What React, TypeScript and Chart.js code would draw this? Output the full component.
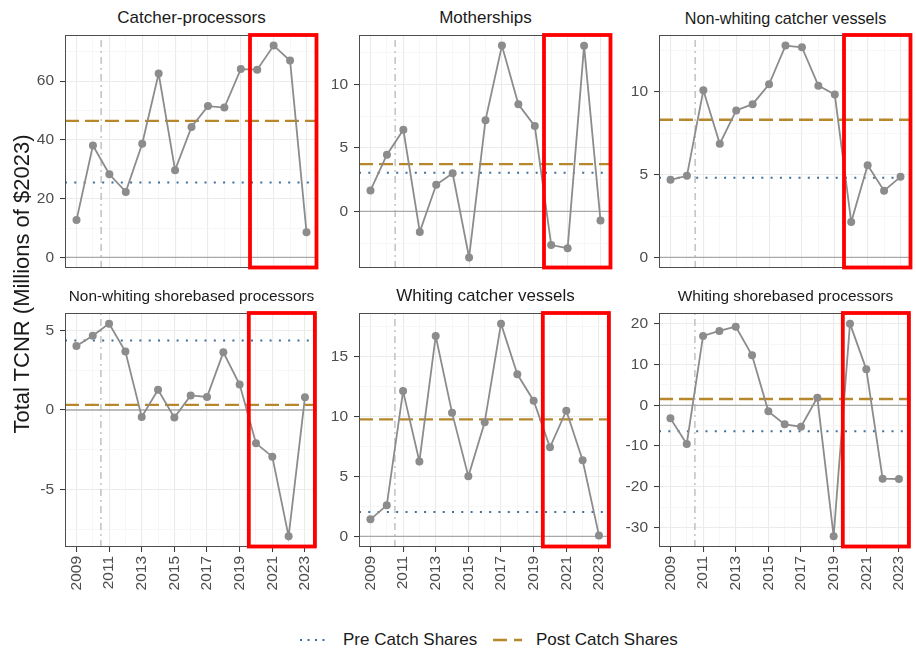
import React, { useEffect, useRef } from "react";
import { Chart, registerables } from "chart.js";

Chart.register(...registerables);

// ---------------- data ----------------
const years = [2009, 2010, 2011, 2012, 2013, 2014, 2015, 2016, 2017, 2018, 2019, 2020, 2021, 2022, 2023];
const xTickLabels = ["2009", "2011", "2013", "2015", "2017", "2019", "2021", "2023"];

const panelTitles = [
  "Catcher-processors",
  "Motherships",
  "Non-whiting catcher vessels",
  "Non-whiting shorebased processors",
  "Whiting catcher vessels",
  "Whiting shorebased processors",
];

const catcherProcessors = [12.7, 38.1, 28.3, 22.3, 38.7, 62.6, 29.7, 44.4, 51.5, 51.0, 64.1, 63.9, 72.1, 67.0, 8.6];
const motherships = [1.64, 4.46, 6.42, -1.62, 2.09, 3.0, -3.63, 7.18, 13.05, 8.43, 6.71, -2.66, -2.9, 13.03, -0.73];
const nonWhitingCatcherVessels = [4.69, 4.93, 10.1, 6.87, 8.88, 9.26, 10.46, 12.8, 12.7, 10.38, 9.84, 2.14, 5.57, 4.03, 4.87];
const nonWhitingShorebased = [4.03, 4.68, 5.44, 3.68, -0.44, 1.28, -0.48, 0.92, 0.82, 3.63, 1.6, -2.1, -2.94, -7.96, 0.8];
const whitingCatcherVessels = [1.42, 2.59, 12.13, 6.26, 16.73, 10.33, 5.01, 9.52, 17.76, 13.53, 11.33, 7.43, 10.49, 6.35, 0.08];
const whitingShorebased = [-3.2, -9.5, 17.05, 18.3, 19.34, 12.3, -1.48, -4.67, -5.25, 1.89, -32.2, 20.08, 8.85, -18.03, -18.1];

const seriesList = [
  catcherProcessors,
  motherships,
  nonWhitingCatcherVessels,
  nonWhitingShorebased,
  whitingCatcherVessels,
  whitingShorebased,
];

const preMeans = [25.5, 3.03, 4.81, 4.37, 2.03, -6.39];
const postMeans = [46.5, 3.71, 8.32, 0.32, 9.77, 1.56];

const majorTicks = [
  [0, 20, 40, 60],
  [0, 5, 10],
  [0, 5, 10],
  [-5, 0, 5],
  [0, 5, 10, 15],
  [-30, -20, -10, 0, 10, 20],
];
const minorTicks = [
  [10, 30, 50, 70],
  [-2.5, 2.5, 7.5, 12.5],
  [2.5, 7.5, 12.5],
  [-7.5, -2.5, 2.5],
  [2.5, 7.5, 12.5, 17.5],
  [-25, -15, -5, 5, 15],
];

const catchShareStart = 2010.5;
const highlightStart = 2019.5;

// ---------------- style ----------------
const FONT = '"Liberation Sans", Arial, sans-serif';
const GREY = "#8c8c8c";
const PRE_COLOR = "#3f6f9c";
const POST_COLOR = "#b8862b";
const titleSizes = [17, 17, 16.2, 15.4, 17, 15.4];

const colLeft = [65, 359, 659];
const rowTop = [35, 313];
const PLOT_W = 253;
const rowH = [233, 234];
const YW = 50;
const PAD_T = 20;
const PAD_R = 10;
const PAD_B_TOP = 20;
const XH = 55;

const framePlugin = {
  id: "frame",
  afterDatasetsDraw(chart: any) {
    const { ctx, chartArea } = chart;
    const xs = chart.scales.x;
    ctx.save();
    ctx.strokeStyle = "#4d4d4d";
    ctx.lineWidth = 1;
    ctx.strokeRect(
      chartArea.left + 0.5,
      chartArea.top + 0.5,
      chartArea.right - chartArea.left - 1,
      chartArea.bottom - chartArea.top - 1
    );
    const x1 = xs.getPixelForValue(highlightStart) + 1;
    const x2 = chartArea.right - 1.5;
    ctx.strokeStyle = "#ff0000";
    ctx.lineWidth = 3.8;
    ctx.lineJoin = "miter";
    ctx.strokeRect(x1, chartArea.top, x2 - x1, chartArea.bottom - chartArea.top - 0.5);
    ctx.restore();
  },
};

function Panel({ idx }: { idx: number }) {
  const ref = useRef<HTMLCanvasElement>(null);
  const col = idx % 3;
  const row = Math.floor(idx / 3);
  const bottom = row === 1;
  const width = YW + PLOT_W + PAD_R;
  const height = PAD_T + rowH[row] + (bottom ? XH : PAD_B_TOP);

  useEffect(() => {
    const values = seriesList[idx];
    const all = [...values, 0, preMeans[idx], postMeans[idx]];
    const lo = Math.min(...all);
    const hi = Math.max(...all);
    const ex = (hi - lo) * 0.05;
    const ymin = lo - ex;
    const ymax = hi + ex;
    const xmin = years[0] - 0.7;
    const xmax = years[years.length - 1] + 0.7;
    const majors = majorTicks[idx];
    const yTicks = [...majors, ...minorTicks[idx]].filter((v) => v >= ymin && v <= ymax).sort((a, b) => a - b);
    const isMajorX = (v: number) => xTickLabels.includes(String(v));
    const isMajorY = (v: number) => majors.includes(v);

    const chart = new Chart(ref.current as HTMLCanvasElement, {
      type: "line",
      data: {
        datasets: [
          {
            data: years.map((x, i) => ({ x, y: values[i] })),
            borderColor: GREY,
            backgroundColor: GREY,
            pointBackgroundColor: GREY,
            pointBorderColor: GREY,
            pointRadius: 4,
            pointBorderWidth: 0,
            borderWidth: 1.8,
            tension: 0,
          },
          {
            data: [
              { x: xmin, y: preMeans[idx] },
              { x: xmax, y: preMeans[idx] },
            ],
            borderColor: PRE_COLOR,
            borderDash: [2, 7.3],
            borderWidth: 2,
            pointRadius: 0,
          },
          {
            data: [
              { x: xmin, y: postMeans[idx] },
              { x: xmax, y: postMeans[idx] },
            ],
            borderColor: POST_COLOR,
            borderDash: [14, 6],
            borderWidth: 2.3,
            pointRadius: 0,
          },
          {
            data: [
              { x: xmin, y: 0 },
              { x: xmax, y: 0 },
            ],
            borderColor: "#a9a9a9",
            borderWidth: 1.3,
            pointRadius: 0,
          },
          {
            data: [
              { x: catchShareStart, y: ymin },
              { x: catchShareStart, y: ymax },
            ],
            borderColor: "#bdbdbd",
            borderDash: [7, 4, 2, 4],
            borderWidth: 1.4,
            pointRadius: 0,
          },
        ],
      },
      options: {
        animation: false,
        responsive: false,
        events: [],
        layout: { padding: { top: PAD_T, right: PAD_R, bottom: bottom ? 0 : PAD_B_TOP, left: 0 } },
        plugins: { legend: { display: false }, tooltip: { enabled: false }, title: { display: false } },
        scales: {
          x: {
            type: "linear",
            min: xmin,
            max: xmax,
            afterBuildTicks: (s: any) => {
              s.ticks = years.map((v) => ({ value: v }));
            },
            afterFit: (s: any) => {
              s.height = bottom ? XH : 0;
            },
            border: { display: false },
            grid: {
              color: (c: any) => (c.tick && isMajorX(c.tick.value) ? "#ebebeb" : "#f3f3f3"),
              lineWidth: (c: any) => (c.tick && isMajorX(c.tick.value) ? 1.1 : 0.7),
              drawTicks: bottom,
              tickLength: 5,
              tickWidth: 1,
              tickColor: (c: any) => (c.tick && isMajorX(c.tick.value) ? "#333333" : "rgba(0,0,0,0)"),
            },
            ticks: {
              display: bottom,
              autoSkip: false,
              maxRotation: 90,
              minRotation: 90,
              padding: 4,
              color: "#4d4d4d",
              font: { family: FONT, size: 15.5 },
              callback: (v: any) => (isMajorX(Number(v)) ? String(v) : ""),
            },
          },
          y: {
            type: "linear",
            min: ymin,
            max: ymax,
            afterBuildTicks: (s: any) => {
              s.ticks = yTicks.map((v) => ({ value: v }));
            },
            afterFit: (s: any) => {
              s.width = YW;
            },
            border: { display: false },
            grid: {
              color: (c: any) => (c.tick && isMajorY(c.tick.value) ? "#ebebeb" : "#f3f3f3"),
              lineWidth: (c: any) => (c.tick && isMajorY(c.tick.value) ? 1.1 : 0.7),
              drawTicks: true,
              tickLength: 5,
              tickWidth: 1,
              tickColor: (c: any) => (c.tick && isMajorY(c.tick.value) ? "#333333" : "rgba(0,0,0,0)"),
            },
            ticks: {
              autoSkip: false,
              padding: 6,
              color: "#4d4d4d",
              font: { family: FONT, size: 15.5 },
              callback: (v: any) => (isMajorY(Number(v)) ? String(v) : ""),
            },
          },
        },
      },
      plugins: [framePlugin],
    } as any);
    return () => chart.destroy();
  }, [idx]);

  const plotLeft = colLeft[col];
  const plotTop = rowTop[row];
  return (
    <>
      <div
        style={{
          position: "absolute",
          left: plotLeft,
          width: PLOT_W,
          top: plotTop - 28,
          height: 22,
          lineHeight: "22px",
          textAlign: "center",
          fontFamily: FONT,
          fontSize: titleSizes[idx],
          color: "#1a1a1a",
          whiteSpace: "nowrap",
        }}
      >
        {panelTitles[idx]}
      </div>
      <canvas
        ref={ref}
        width={width}
        height={height}
        style={{ position: "absolute", left: plotLeft - YW, top: plotTop - PAD_T, width, height }}
      />
    </>
  );
}

export default function App() {
  return (
    <div
      style={{
        position: "fixed",
        left: 0,
        top: 0,
        width: 916,
        height: 648,
        background: "#ffffff",
        overflow: "hidden",
      }}
    >
      {[0, 1, 2, 3, 4, 5].map((i) => (
        <Panel key={i} idx={i} />
      ))}
      <div
        style={{
          position: "absolute",
          left: 22 - 200,
          top: 284 - 14,
          width: 400,
          height: 28,
          lineHeight: "28px",
          textAlign: "center",
          transform: "rotate(-90deg)",
          fontFamily: FONT,
          fontSize: 22,
          color: "#1a1a1a",
          whiteSpace: "nowrap",
        }}
      >
        Total TCNR (Millions of $2023)
      </div>
      <svg style={{ position: "absolute", left: 296, top: 632 }} width={40} height={16}>
        <line x1={4} y1={8} x2={34} y2={8} stroke={PRE_COLOR} strokeWidth={2} strokeDasharray="2 5.5" />
      </svg>
      <div
        style={{
          position: "absolute",
          left: 343,
          top: 628,
          height: 24,
          lineHeight: "24px",
          fontFamily: FONT,
          fontSize: 17,
          color: "#1a1a1a",
          whiteSpace: "nowrap",
        }}
      >
        Pre Catch Shares
      </div>
      <svg style={{ position: "absolute", left: 490, top: 632 }} width={40} height={16}>
        <line x1={3} y1={8} x2={32} y2={8} stroke={POST_COLOR} strokeWidth={2.3} strokeDasharray="14 7" />
      </svg>
      <div
        style={{
          position: "absolute",
          left: 536,
          top: 628,
          height: 24,
          lineHeight: "24px",
          fontFamily: FONT,
          fontSize: 17,
          color: "#1a1a1a",
          whiteSpace: "nowrap",
        }}
      >
        Post Catch Shares
      </div>
    </div>
  );
}
